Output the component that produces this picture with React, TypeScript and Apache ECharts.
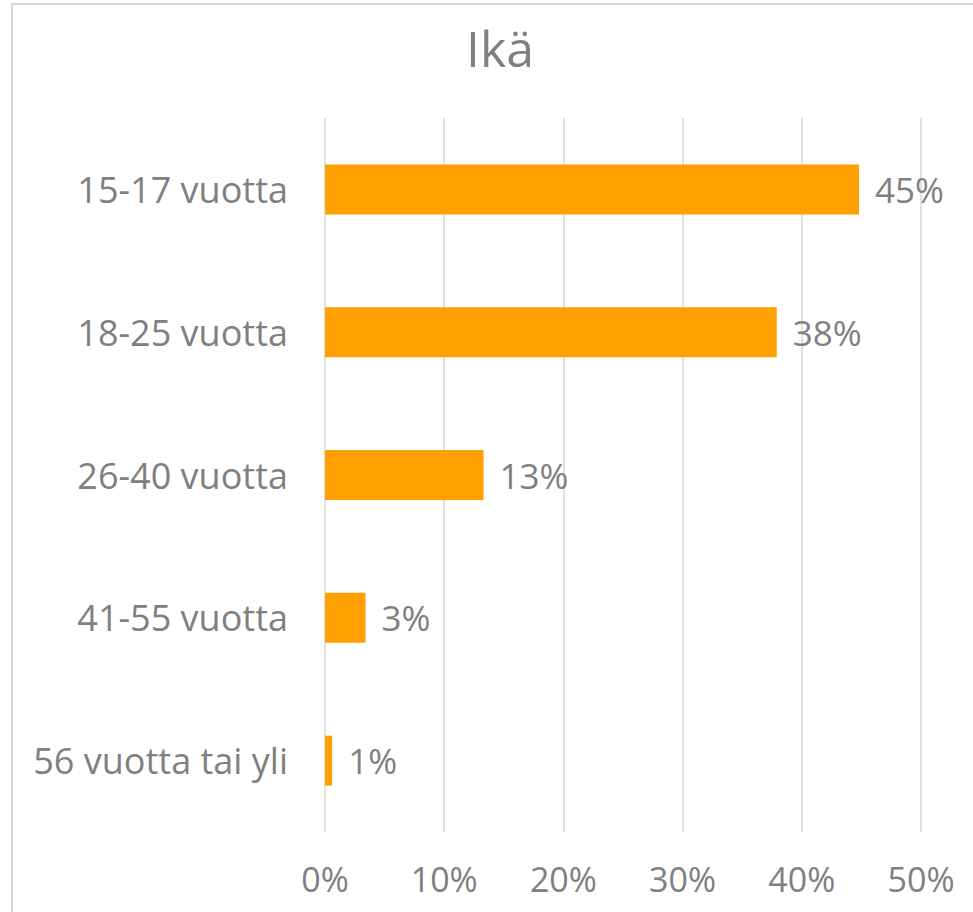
import React, { useEffect, useRef } from "react";
import * as echarts from "echarts";

const categories = ["15-17 vuotta", "18-25 vuotta", "26-40 vuotta", "41-55 vuotta", "56 vuotta tai yli"];
const values = [44.8, 37.9, 13.3, 3.4, 0.6];
const labels = ["45%", "38%", "13%", "3%", "1%"];
const xTicks = [0, 10, 20, 30, 40, 50];

const FONT = "'Open Sans', 'Noto Sans', sans-serif";
const GRAY = "#808080";

export default function App() {
  const ref = useRef<HTMLDivElement>(null);
  useEffect(() => {
    if (!ref.current) return;
    const chart = echarts.init(ref.current, undefined, { renderer: "svg" });
    chart.setOption({
      animation: false,
      backgroundColor: "#ffffff",
      title: {
        text: "Ikä",
        left: 495,
        top: 18,
        textAlign: "center",
        textStyle: { fontFamily: FONT, fontSize: 50, fontWeight: "normal", color: GRAY },
      },
      graphic: [
        {
          type: "rect",
          shape: { x: 12, y: 4, width: 1000, height: 1000 },
          style: { fill: "none", stroke: "#d9d9d9", lineWidth: 2 },
          silent: true,
        },
      ],
      grid: { left: 325, top: 118, right: 52, bottom: 80, containLabel: false },
      xAxis: {
        type: "value",
        min: xTicks[0],
        max: xTicks[xTicks.length - 1],
        interval: 10,
        axisLine: { show: false },
        axisTick: { show: false },
        splitLine: { show: true, lineStyle: { color: "#e0e0e0", width: 2 } },
        axisLabel: {
          formatter: (v: number) => v + "%",
          fontFamily: FONT,
          fontSize: 34,
          color: GRAY,
          margin: 30,
        },
      },
      yAxis: {
        type: "category",
        data: categories,
        inverse: true,
        axisLine: { show: false },
        axisTick: { show: false },
        splitLine: { show: false },
        axisLabel: { fontFamily: FONT, fontSize: 36, color: GRAY, margin: 37 },
      },
      series: [
        {
          type: "bar",
          data: values,
          barWidth: 50,
          itemStyle: { color: "#FFA000" },
          label: {
            show: true,
            position: "right",
            distance: 16,
            formatter: (p: any) => labels[p.dataIndex],
            fontFamily: FONT,
            fontSize: 35,
            color: GRAY,
          },
        },
      ],
    });
    return () => chart.dispose();
  }, []);
  return (
    <div
      ref={ref}
      style={{ position: "fixed", left: 0, top: 0, width: 973, height: 912 }}
    />
  );
}
